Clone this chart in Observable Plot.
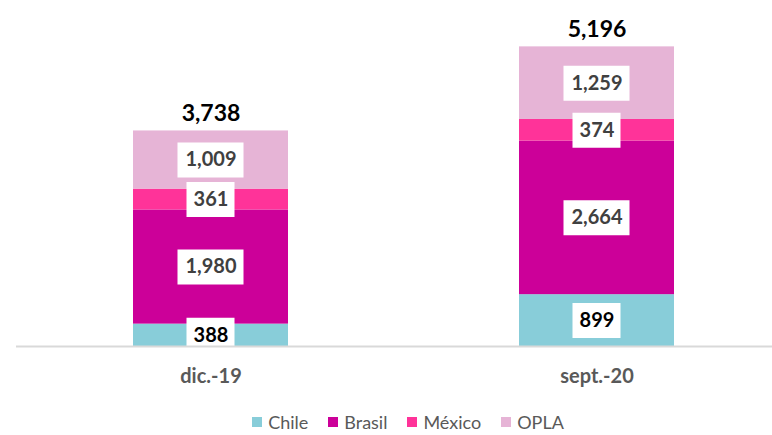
<!DOCTYPE html>
<html>
<head>
<meta charset="utf-8">
<script src="https://cdn.jsdelivr.net/npm/d3@7"></script>
<script src="https://cdn.jsdelivr.net/npm/@observablehq/plot@0.6"></script>
<style>
  html, body { margin: 0; padding: 0; background: #fff; }
  #chart { width: 772px; }
  .legend { box-sizing: border-box; height: 35px; padding-top: 9px; padding-left: 44px; display: flex; align-items: center; justify-content: center; font-family: Lato, "Open Sans", sans-serif; font-size: 18px; color: #595959; }
  .legend .item { display: flex; align-items: center; margin: 0 10px; }
  .legend .sw { width: 10px; height: 10px; margin-right: 6px; }
</style>
</head>
<body>
<div id="chart"></div>
<script>
const categories = ["dic.-19", "sept.-20"];
const series = ["Chile", "Brasil", "México", "OPLA"];
const chile = [388, 899];
const brasil = [1980, 2664];
const mexico = [361, 374];
const opla = [1009, 1259];
const totals = [3738, 5196];
const colors = ["#88CDD9", "#CC0099", "#FF3399", "#E6B4D6"];

const values = [chile, brasil, mexico, opla];
const rows = categories.flatMap((c, i) => {
  let acc = 0;
  return series.map((s, j) => {
    const v = values[j][i];
    const r = {cat: c, series: s, value: v, y1: acc, y2: acc + v, mid: acc + v / 2};
    acc += v;
    return r;
  });
});
const totalRows = categories.map((c, i) => ({cat: c, total: totals[i]}));
const fmt = d3.format(",");
const font = "Lato, 'Open Sans', sans-serif";

const plot = Plot.plot({
  width: 772,
  height: 400,
  marginLeft: 16,
  marginRight: 0,
  marginTop: 0,
  marginBottom: 54,
  style: {fontFamily: font, background: "white"},
  x: {domain: categories, range: [17.5, 789.5], paddingInner: 0.5984, paddingOuter: 0.2992, axis: null},
  y: {domain: [0, 6000], axis: null},
  color: {domain: series, range: colors},
  marks: [
    Plot.barY(rows, {x: "cat", y1: "y1", y2: "y2", fill: "series"}),
    Plot.tickY(rows.filter(d => d.value >= 1000), {x: "cat", y: "mid", stroke: "white", strokeWidth: 35, insetLeft: 44.5, insetRight: 44.5}),
    Plot.tickY(rows.filter(d => d.value < 1000), {x: "cat", y: "mid", stroke: "white", strokeWidth: 35, insetLeft: 53.5, insetRight: 53.5}),
    Plot.text(rows.filter(d => d.series !== "Chile"), {x: "cat", y: "mid", text: d => fmt(d.value), fill: "#404040", fontSize: 20, fontWeight: "bold"}),
    Plot.text(rows.filter(d => d.series === "Chile"), {x: "cat", y: "mid", text: d => fmt(d.value), fill: "#000000", fontSize: 20, fontWeight: "bold"}),
    Plot.text(totalRows, {x: "cat", y: "total", text: d => fmt(d.total), dy: -17, fill: "#000000", fontSize: 23, fontWeight: "bold"}),
    Plot.ruleY([0], {stroke: "#D9D9D9", strokeWidth: 2}),
    Plot.axisX({tickSize: 0, tickPadding: 22, fontSize: 20, fontWeight: "bold", fill: "#595959", label: null})
  ]
});
const chart = document.getElementById("chart");
chart.appendChild(plot);

const legend = document.createElement("div");
legend.className = "legend";
series.forEach((s, i) => {
  const item = document.createElement("div");
  item.className = "item";
  const sw = document.createElement("span");
  sw.className = "sw";
  sw.style.background = colors[i];
  const t = document.createElement("span");
  t.textContent = s;
  item.appendChild(sw);
  item.appendChild(t);
  legend.appendChild(item);
});
chart.appendChild(legend);
</script>
</body>
</html>
